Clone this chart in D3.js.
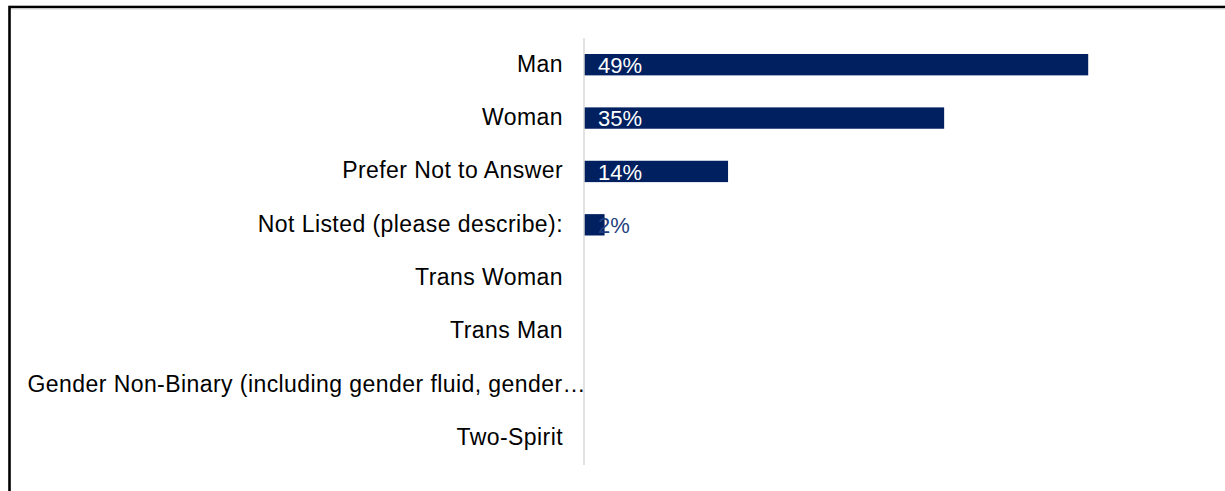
<!DOCTYPE html>
<html>
<head>
<meta charset="utf-8">
<script src="https://cdn.jsdelivr.net/npm/d3@7"></script>
<style>
  html, body { margin: 0; padding: 0; background: #fff; overflow: hidden; }
  svg { display: block; font-family: "Liberation Sans", Arial, sans-serif; }
</style>
</head>
<body>
<div id="chart"></div>
<script>
const categories = [
  "Man",
  "Woman",
  "Prefer Not to Answer",
  "Not Listed (please describe):",
  "Trans Woman",
  "Trans Man",
  "Gender Non-Binary (including gender fluid, gender\u2026",
  "Two-Spirit"
];
const values = [49, 35, 14, 2, null, null, null, null];
const valueLabels = ["49%", "35%", "14%", "2%", "", "", "", ""];

function drawChart() {
  const width = 1225, height = 491;
  const svg = d3.select("#chart").append("svg")
    .attr("width", width)
    .attr("height", height);

  // frame of the slide, runs off the right and bottom edges
  svg.append("rect")
    .attr("x", 9.5).attr("y", 7)
    .attr("width", 1400).attr("height", 700)
    .attr("fill", "none")
    .attr("stroke", "#000")
    .attr("stroke-width", 2.6);
  svg.append("line")
    .attr("x1", 11).attr("x2", width)
    .attr("y1", 9).attr("y2", 9)
    .attr("stroke", "#d8d8d8").attr("stroke-width", 1);

  const axisX = 584;
  const x = d3.scaleLinear().domain([0, 60]).range([axisX, axisX + 617.4]);
  const y = d3.scaleBand().domain(categories).range([38, 465]).paddingInner(0.6).paddingOuter(0.3);

  const data = categories.map((c, i) => ({ cat: c, value: values[i], label: valueLabels[i] }));

  // bars
  svg.append("g").selectAll("rect")
    .data(data.filter(d => d.value != null))
    .enter().append("rect")
    .attr("x", x(0))
    .attr("y", d => y(d.cat))
    .attr("width", d => x(d.value) - x(0))
    .attr("height", y.bandwidth())
    .attr("fill", "#002060");

  // category axis
  const axis = svg.append("g")
    .attr("transform", `translate(${axisX},0)`)
    .call(d3.axisLeft(y).tickSize(0).tickPadding(21));
  axis.select(".domain").attr("stroke", "#d9d9d9").attr("stroke-width", 1.5)
    .attr("d", "M0,38V465");
  axis.selectAll("text")
    .attr("font-family", "'Liberation Sans', Arial, sans-serif")
    .attr("font-size", 23)
    .attr("letter-spacing", 0.43)
    .attr("dy", "0.3em")
    .attr("fill", "#000");
  // the truncated label spills over the axis line, as in the original
  axis.selectAll(".tick text")
    .filter(d => d.endsWith("\u2026"))
    .attr("x", 2);

  // value labels
  svg.append("g").selectAll("text")
    .data(data.filter(d => d.value != null))
    .enter().append("text")
    .attr("x", x(0) + 14)
    .attr("y", d => y(d.cat) + y.bandwidth() / 2)
    .attr("dy", "0.38em")
    .attr("font-size", 22)
    .attr("fill", d => d.value < 5 ? "#1f3f80" : "#fff")
    .text(d => d.label);
}

drawChart();
</script>
</body>
</html>
